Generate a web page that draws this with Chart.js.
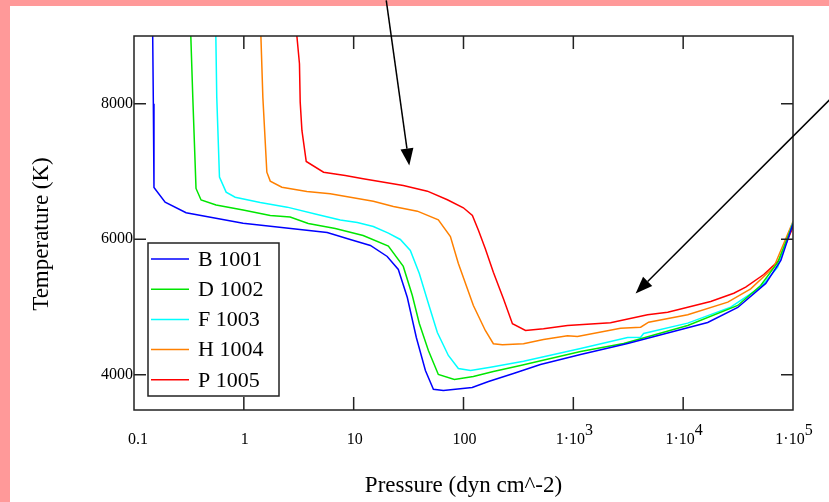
<!DOCTYPE html>
<html>
<head>
<meta charset="utf-8">
<script src="https://cdn.jsdelivr.net/npm/chart.js@4.4.0/dist/chart.umd.min.js"></script>
<style>
  html, body { margin: 0; padding: 0; background: #fff; }
</style>
</head>
<body>
<canvas id="tempChart" width="829" height="502"></canvas>
<script>
// values (pressure in dyn cm^-2, temperature in K)
const seriesNames = ['B 1001', 'D 1002', 'F 1003', 'H 1004', 'P 1005'];
const seriesColors = ['#0000ff', '#00e600', '#00ffff', '#ff8000', '#ff0000'];

const bPressure = [0.148, 0.150, 0.152, 0.192, 0.298, 0.985, 5.74, 9.3, 14.2, 20.2, 25.5, 30.8, 37.2, 45.0, 53.2, 65.6, 120, 169, 285, 502, 1164, 3119, 16720, 31400, 56500, 77500, 100000];
const bTemp = [9000, 8000, 6765, 6548, 6391, 6238, 6100, 5997, 5908, 5746, 5554, 5141, 4550, 4063, 3787, 3768, 3813, 3901, 4019, 4152, 4300, 4462, 4772, 4993, 5348, 5687, 6230];

const dPressure = [0.329, 0.343, 0.367, 0.408, 0.559, 0.985, 1.74, 2.64, 3.86, 6.8, 12.2, 20.7, 28.3, 34.2, 39.6, 47.9, 59.0, 82.6, 123, 187, 330, 1164, 2870, 11000, 31400, 50800, 72600, 100000];
const dTemp = [9000, 8097, 6750, 6580, 6506, 6432, 6351, 6329, 6233, 6159, 6056, 5898, 5599, 5170, 4757, 4359, 4004, 3931, 3975, 4049, 4137, 4344, 4462, 4728, 5023, 5318, 5658, 6230];

const fPressure = [0.556, 0.567, 0.600, 0.690, 0.834, 1.41, 2.48, 4.66, 7.55, 10.8, 15.1, 20.7, 26.6, 32.8, 39.6, 47.9, 57.8, 72.8, 89.8, 116, 176, 352, 1164, 3119, 4100, 4365, 11000, 27100, 50800, 72600, 100000];
const fTemp = [9000, 8097, 6917, 6695, 6621, 6543, 6474, 6366, 6285, 6248, 6189, 6090, 5997, 5835, 5495, 5052, 4624, 4285, 4093, 4063, 4112, 4201, 4388, 4551, 4555, 4610, 4762, 4998, 5293, 5588, 6250];

const hPressure = [1.43, 1.49, 1.62, 1.74, 2.22, 3.75, 6.12, 15.1, 23.0, 38.0, 59.0, 76.0, 89.8, 123, 158, 187, 226, 352, 535, 885, 1090, 2690, 4100, 4850, 11000, 25500, 41200, 66800, 100000];
const hTemp = [9000, 8097, 6990, 6858, 6769, 6706, 6672, 6562, 6484, 6415, 6288, 6041, 5643, 5023, 4654, 4458, 4443, 4458, 4521, 4576, 4565, 4688, 4703, 4776, 4886, 5072, 5269, 5588, 6260];

const pPressure = [3.04, 3.21, 3.26, 3.38, 3.70, 5.32, 8.38, 12.2, 28.3, 46.9, 71.3, 99.7, 120.5, 137, 158, 187, 231, 279, 367, 535, 885, 2180, 4740, 7230, 11000, 17800, 28900, 37100, 54200, 74300, 100000];
const pTemp = [9000, 8590, 8024, 7606, 7148, 6990, 6942, 6893, 6794, 6710, 6583, 6465, 6351, 6130, 5860, 5514, 5122, 4753, 4654, 4679, 4728, 4768, 4886, 4924, 4998, 5082, 5204, 5293, 5480, 5687, 6180];

// x tick labels are "1·10" with a raised exponent from 1e3 on
const xTicks = [0.1, 1, 10, 100, 1000, 10000, 100000];
const xTickLabels = ['0.1', '1', '10', '100', '1\u00b710', '1\u00b710', '1\u00b710'];
const xTickExps = ['', '', '', '', '3', '4', '5'];
const yTicks = [4000, 6000, 8000];

// the two annotation arrows, [pressure, temperature] of tail and head
const arrowTails = [[19.8, 9525], [216800, 8063]];
const arrowHeads = [[32.1, 7089], [3690, 5200]];

const allPressure = [bPressure, dPressure, fPressure, hPressure, pPressure];
const allTemp = [bTemp, dTemp, fTemp, hTemp, pTemp];

const serif = 'Liberation Serif, Times New Roman, serif';

function drawArrow(ctx, x0, y0, x1, y1) {
  const ang = Math.atan2(y1 - y0, x1 - x0);
  const len = 17, half = 6.5;
  const bx = x1 - len * Math.cos(ang), by = y1 - len * Math.sin(ang);
  ctx.beginPath();
  ctx.moveTo(x0, y0);
  ctx.lineTo(bx, by);
  ctx.stroke();
  ctx.beginPath();
  ctx.moveTo(x1, y1);
  ctx.lineTo(bx + half * Math.sin(ang), by - half * Math.cos(ang));
  ctx.lineTo(bx - half * Math.sin(ang), by + half * Math.cos(ang));
  ctx.closePath();
  ctx.fill();
}

const framePlugin = {
  id: 'frame',
  beforeDraw(chart) {
    const ctx = chart.ctx;
    ctx.save();
    ctx.fillStyle = '#fff';
    ctx.fillRect(0, 0, chart.width, chart.height);
    // pink strips on the top and left edge
    ctx.fillStyle = '#ff9999';
    ctx.fillRect(0, 0, chart.width, 6);
    ctx.fillRect(0, 0, 10, chart.height);
    ctx.restore();
  },
  afterDatasetsDraw(chart) {
    const {ctx, chartArea: a, scales: {x, y}} = chart;
    ctx.save();
    ctx.strokeStyle = '#222';
    ctx.lineWidth = 1.5;
    ctx.strokeRect(a.left, a.top, a.right - a.left, a.bottom - a.top);
    // inward tick marks on all four sides
    ctx.beginPath();
    xTicks.slice(1, -1).forEach(v => {
      const px = x.getPixelForValue(v);
      ctx.moveTo(px, a.bottom); ctx.lineTo(px, a.bottom - 13);
      ctx.moveTo(px, a.top); ctx.lineTo(px, a.top + 13);
    });
    yTicks.forEach(v => {
      const py = y.getPixelForValue(v);
      ctx.moveTo(a.left, py); ctx.lineTo(a.left + 12, py);
      ctx.moveTo(a.right, py); ctx.lineTo(a.right - 12, py);
    });
    ctx.stroke();

    // x tick labels with superscript exponents
    ctx.fillStyle = '#000';
    ctx.textBaseline = 'alphabetic';
    ctx.textAlign = 'left';
    ctx.font = '16px ' + serif;
    xTicks.forEach((v, i) => {
      const base = xTickLabels[i], exp = xTickExps[i];
      const wb = ctx.measureText(base).width;
      const we = exp ? ctx.measureText(exp).width : 0;
      const left = x.getPixelForValue(v) - (wb + we) / 2 + (i === 0 ? 4 : 1);
      ctx.fillText(base, left, a.bottom + 34);
      if (exp) ctx.fillText(exp, left + wb, a.bottom + 25);
    });

    // y axis title
    ctx.font = '23px ' + serif;
    ctx.textAlign = 'center';
    ctx.textBaseline = 'middle';
    ctx.translate(42, 234);
    ctx.rotate(-Math.PI / 2);
    ctx.fillText('Temperature (K)', 0, 0);
    ctx.restore();
  },
  afterDraw(chart) {
    const {ctx, chartArea: a, scales: {x, y}} = chart;
    ctx.save();
    // legend box inside the plot, lower left
    const bx = a.left + 14, by = a.top + 207, bw = 131, bh = 153;
    ctx.fillStyle = '#fff';
    ctx.fillRect(bx, by, bw, bh);
    ctx.strokeStyle = '#222';
    ctx.lineWidth = 1.5;
    ctx.strokeRect(bx, by, bw, bh);
    ctx.font = '22px ' + serif;
    ctx.textBaseline = 'middle';
    chart.data.datasets.forEach((ds, i) => {
      const ry = by + 16 + i * 30.2;
      ctx.strokeStyle = ds.borderColor;
      ctx.lineWidth = 1.5;
      ctx.beginPath();
      ctx.moveTo(bx + 3, ry);
      ctx.lineTo(bx + 41, ry);
      ctx.stroke();
      ctx.fillStyle = '#000';
      ctx.fillText(ds.label, bx + 50, ry + 1);
    });
    // arrows
    ctx.strokeStyle = '#000';
    ctx.fillStyle = '#000';
    ctx.lineWidth = 1.5;
    arrowTails.forEach((t, i) => {
      const h = arrowHeads[i];
      drawArrow(ctx, x.getPixelForValue(t[0]), y.getPixelForValue(t[1]),
        x.getPixelForValue(h[0]), y.getPixelForValue(h[1]));
    });
    ctx.restore();
  }
};

const ctx = document.getElementById('tempChart').getContext('2d');
new Chart(ctx, {
  type: 'line',
  data: {
    datasets: seriesNames.map((name, i) => ({
      label: name,
      data: allPressure[i].map((p, j) => ({x: p, y: allTemp[i][j]})),
      borderColor: seriesColors[i],
      borderWidth: 1.5,
      pointRadius: 0,
      tension: 0,
      fill: false
    }))
  },
  options: {
    responsive: false,
    animation: false,
    layout: { padding: { left: 0, top: 36, right: 36, bottom: 0 } },
    plugins: {
      legend: { display: false },
      tooltip: { enabled: false }
    },
    scales: {
      x: {
        type: 'logarithmic',
        min: 0.1,
        max: 100000,
        afterBuildTicks: scale => { scale.ticks = xTicks.map(v => ({ value: v })); },
        afterFit: scale => { scale.height = 92; },
        grid: { display: false, drawTicks: false },
        border: { display: false },
        ticks: { display: false },
        title: {
          display: true,
          text: 'Pressure (dyn cm^-2)',
          color: '#000',
          font: { family: serif, size: 23 },
          padding: { top: 0, bottom: 2 }
        }
      },
      y: {
        min: 3480,
        max: 9000,
        afterBuildTicks: scale => { scale.ticks = yTicks.map(v => ({ value: v })); },
        afterFit: scale => { scale.width = 134; },
        grid: { display: false, drawTicks: false },
        border: { display: false },
        ticks: {
          padding: 1,
          color: '#000',
          font: { family: serif, size: 16 },
          callback: value => String(value)
        },
        title: { display: false }
      }
    }
  },
  plugins: [framePlugin]
});
</script>
</body>
</html>
